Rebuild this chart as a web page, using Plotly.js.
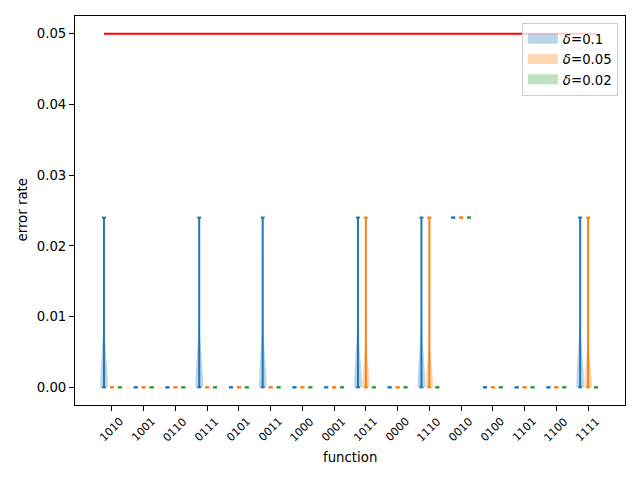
<!DOCTYPE html>
<html>
<head>
<meta charset="utf-8">
<script src="https://cdn.plot.ly/plotly-3.0.1.min.js"></script>
<style>html,body{margin:0;padding:0;background:#fff;}#chart{width:640px;height:480px;}</style>
</head>
<body>
<div id="chart"></div>
<script>
// ---- data ----
const functions = ['1010','1001','0110','0111','0101','0011','1000','0001','1011','0000','1110','0010','0100','1101','1100','1111'];
const deltaLabels = ['0.1', '0.05', '0.02'];
const runsPerFunction = 20;          // trials per function and delta
const errorValue = 0.024;            // error rate of a failed trial
// number of trials (out of runsPerFunction) that gave errorValue, others gave 0
const hitsDelta01  = [2,0,0,2,0,2,0,0,2,0,2,20,0,0,0,2];
const hitsDelta005 = [0,0,0,0,0,0,0,0,1,0,1,20,0,0,0,1];
const hitsDelta002 = [0,0,0,0,0,0,0,0,0,0,0,20,0,0,0,0];
const threshold = 0.05;

// ---- styling ----
const colors = ['#1f77b4', '#ff7f0e', '#2ca02c'];
const fills = ['rgba(31,119,180,0.3)', 'rgba(255,127,14,0.3)', 'rgba(44,160,44,0.3)'];
const seriesHits = [hitsDelta01, hitsDelta005, hitsDelta002];
const offsets = [-0.25, 0, 0.25];
const vWidth = 0.25;
const FONT = 'DejaVu Sans';

function samplesFor(h) {
  const s = [];
  for (let r = 0; r < runsPerFunction; r++) s.push(r < h ? errorValue : 0);
  return s;
}
function kde(data, coords) {
  const n = data.length;
  const mean = data.reduce((a, b) => a + b, 0) / n;
  const v = data.reduce((a, b) => a + (b - mean) * (b - mean), 0) / (n - 1);
  const bw = Math.sqrt(v) * Math.pow(n, -1 / 5);
  return coords.map(c => data.reduce((a, x) => a + Math.exp(-0.5 * ((c - x) / bw) ** 2), 0));
}

const traces = [];
// legend traces (thick line swatch, no data drawn)
deltaLabels.forEach((d, k) => {
  traces.push({type: 'scatter', x: [null], y: [null], mode: 'lines',
    line: {width: 10, color: fills[k]}, name: '<i>δ</i>=' + d, showlegend: true});
});

let allPos = [];
seriesHits.forEach((hits, k) => {
  const lx = [], ly = [];
  hits.forEach((h, i) => {
    const data = samplesFor(h);
    const pos = i + offsets[k];
    allPos.push(pos);
    const mn = Math.min(...data), mx = Math.max(...data);
    if (mx > mn) {
      const coords = [];
      for (let j = 0; j < 100; j++) coords.push(mn + (mx - mn) * j / 99);
      const vals = kde(data, coords);
      const vmax = Math.max(...vals);
      const half = vals.map(v => 0.5 * vWidth * v / vmax);
      const bx = coords.map((c, j) => pos - half[j]).concat(coords.map((c, j) => pos + half[j]).reverse());
      const by = coords.concat(coords.slice().reverse());
      traces.push({type: 'scatter', x: bx, y: by, mode: 'lines', fill: 'toself',
        fillcolor: fills[k], line: {width: 0, color: fills[k]}, showlegend: false, hoverinfo: 'skip'});
    }
    // bar + caps
    lx.push(pos, pos, null); ly.push(mn, mx, null);
    lx.push(pos - 0.25 * vWidth, pos + 0.25 * vWidth, null); ly.push(mn, mn, null);
    lx.push(pos - 0.25 * vWidth, pos + 0.25 * vWidth, null); ly.push(mx, mx, null);
  });
  traces.push({type: 'scatter', x: lx, y: ly, mode: 'lines', line: {color: colors[k], width: 2},
    showlegend: false, hoverinfo: 'skip', connectgaps: false});
});

traces.push({type: 'scatter', x: [Math.min(...allPos), Math.max(...allPos)], y: [threshold, threshold],
  mode: 'lines', line: {color: 'red', width: 2}, showlegend: false, hoverinfo: 'skip'});

const annotations = functions.map((f, i) => ({
  text: f, x: i, xref: 'x', y: 0, yref: 'paper', xanchor: 'center', yanchor: 'top',
  yshift: -9, textangle: -45, showarrow: false, borderpad: 0,
  font: {family: FONT, size: 11, color: '#000'}
}));
annotations.push({text: 'function', x: 0.5, xref: 'paper', y: 0, yref: 'paper',
  xanchor: 'center', yanchor: 'middle', yshift: -52, showarrow: false,
  font: {family: FONT, size: 13.3, color: '#000'}});
annotations.push({text: 'error rate', x: 0, xref: 'paper', y: 0.5, yref: 'paper',
  xanchor: 'center', yanchor: 'middle', xshift: -53, textangle: -90, showarrow: false,
  font: {family: FONT, size: 13.3, color: '#000'}});

const layout = {
  width: 640, height: 480,
  margin: {l: 75, r: 15, t: 16, b: 75},
  paper_bgcolor: '#fff', plot_bgcolor: '#fff',
  font: {family: FONT, size: 13.3, color: '#000'},
  showlegend: true,
  legend: {x: 0.987, xanchor: 'right', y: 0.983, yanchor: 'top',
    bgcolor: 'rgba(255,255,255,0.8)', bordercolor: '#cccccc', borderwidth: 1,
    font: {family: FONT, size: 13.3, color: '#000'}},
  xaxis: {range: [-1.1625, 16.1625], tickvals: functions.map((f, i) => i), showticklabels: false,
    ticks: 'outside', ticklen: 5, tickwidth: 1, tickcolor: '#000',
    showline: true, linecolor: '#000', linewidth: 1, mirror: true,
    showgrid: false, zeroline: false},
  yaxis: {range: [-0.0025, 0.0525], tickvals: [0, 0.01, 0.02, 0.03, 0.04, 0.05], tickformat: '.2f',
    ticks: 'outside', ticklen: 5, tickwidth: 1, tickcolor: '#000',
    showline: true, linecolor: '#000', linewidth: 1, mirror: true,
    showgrid: false, zeroline: false, tickfont: {family: FONT, size: 13.3, color: '#000'}},
  annotations: annotations,
  hovermode: false
};
Plotly.newPlot('chart', traces, layout, {staticPlot: true});
</script>
</body>
</html>
